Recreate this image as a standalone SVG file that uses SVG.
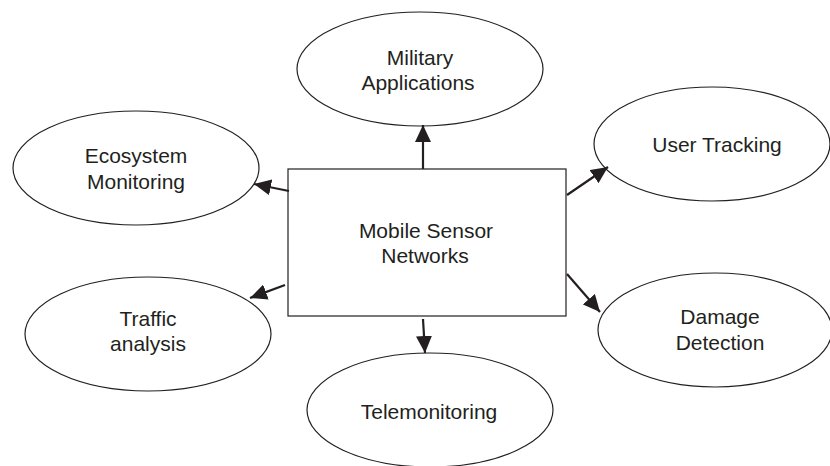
<svg xmlns="http://www.w3.org/2000/svg" width="830" height="466" viewBox="0 0 830 466">
<style>
.n{fill:#fff;stroke:#231f20;stroke-width:1.2}
.t{font-family:"Liberation Sans",Arial,sans-serif;font-size:21px;fill:#231f20;text-anchor:middle}
.c{stroke:#231f20;stroke-width:2.2;fill:none;marker-end:url(#ah)}
</style>
<defs>
<marker id="ah" markerUnits="userSpaceOnUse" markerWidth="18" markerHeight="16" refX="17" refY="8" orient="auto" viewBox="0 0 18 16">
<path d="M0,0 L17,8 L0,16 Z" fill="#231f20"/>
</marker>
</defs>
<rect width="830" height="466" fill="#fff"/>
<g id="military">
<ellipse class="n" cx="420" cy="69" rx="123" ry="57"/>
<text class="t" x="420" y="65">Military</text>
<text class="t" x="418" y="90">Applications</text>
</g>
<g id="ecosystem">
<ellipse class="n" cx="136" cy="168" rx="123" ry="57"/>
<text class="t" x="136" y="163">Ecosystem</text>
<text class="t" x="136" y="189">Monitoring</text>
</g>
<g id="usertracking">
<ellipse class="n" cx="712" cy="144" rx="118" ry="57"/>
<text class="t" x="717" y="152">User Tracking</text>
</g>
<g id="traffic">
<ellipse class="n" cx="148" cy="334" rx="123" ry="57"/>
<text class="t" x="148" y="326">Traffic</text>
<text class="t" x="148" y="351">analysis</text>
</g>
<g id="damage">
<ellipse class="n" cx="715" cy="330" rx="117" ry="57"/>
<text class="t" x="720" y="324">Damage</text>
<text class="t" x="720" y="350">Detection</text>
</g>
<g id="telemonitoring">
<ellipse class="n" cx="430" cy="410" rx="123" ry="57"/>
<text class="t" x="429" y="419">Telemonitoring</text>
</g>
<g id="msn">
<rect class="n" x="288" y="169" width="278" height="147"/>
<text class="t" x="426" y="238">Mobile Sensor</text>
<text class="t" x="425" y="263">Networks</text>
</g>
<g id="connectors">
<path class="c" d="M423,169 L423,125"/>
<path class="c" d="M289,191 L254,184"/>
<path class="c" d="M567,195 L608,167"/>
<path class="c" d="M285,285 L250,298"/>
<path class="c" d="M567,274 L600,312"/>
<path class="c" d="M423,319 L425,353"/>
</g>
</svg>
